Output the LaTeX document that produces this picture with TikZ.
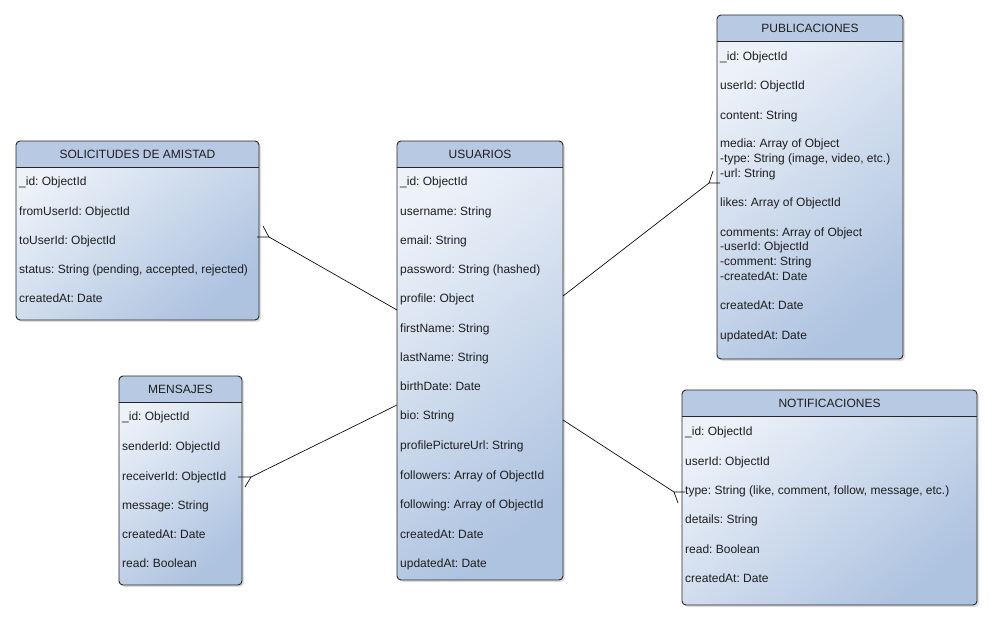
\documentclass[tikz,border=0pt]{standalone}
\usepackage{fontspec}
\setmainfont{Liberation Sans}
\frenchspacing
\usetikzlibrary{fit,calc}
\definecolor{hdrcol}{HTML}{B8CAE3}
\definecolor{bodytop}{HTML}{EDF2F9}
\definecolor{bodybot}{HTML}{AEC3E0}
\definecolor{bordercol}{HTML}{262626}
\definecolor{txtcol}{HTML}{1E1E1E}
\tikzset{
  ebox/.style={draw=bordercol, line width=0.9pt, rounded corners=4pt, inner sep=0pt},
  bodyshade/.style={rounded corners=4pt, top color=bodytop, bottom color=bodybot, shading angle=40},
  hdrfill/.style={fill=hdrcol},
  sepline/.style={draw=bordercol, line width=0.8pt},
  titletxt/.style={anchor=base, inner sep=0pt, text=txtcol, font=\fontsize{12}{14}\selectfont},
  rowtxt/.style={anchor=base west, inner sep=0pt, text=txtcol, font=\fontsize{12}{14}\selectfont},
  conn/.style={draw=black, line width=0.65pt},
  crow/.style={draw=black, line width=0.65pt}
}
\newcommand\erbox[6]{%
  \fill[black,opacity=0.13,rounded corners=4pt] (#2+2,-#3-2) rectangle (#4+2,-#5-2);
  \shade[bodyshade] (#2,-#3) rectangle (#4,-#5);
  \begin{scope}
    \clip[rounded corners=4pt] (#2,-#3) rectangle (#4,-#5);
    \fill[hdrfill] (#2,-#3) rectangle (#4,-#3-26);
  \end{scope}
  \draw[sepline] (#2,-#3-26) -- (#4,-#3-26);
  \node[ebox, fit={(#2,-#3) (#4,-#5)}] (#1) {};
  \node[titletxt] (#1-title) at ({(#2+#4)/2},{-#3-13-4.3}) {#6};
}
\newcommand\erow[4]{\node[rowtxt] (#1) at (#2,{-#3-4.3}) {#4};}
\begin{document}
\begin{tikzpicture}[x=1pt,y=1pt]
\useasboundingbox (0,0) rectangle (992,-621);
\fill[white] (0,0) rectangle (992,-621);

% ---------- SOLICITUDES DE AMISTAD ----------
\erbox{sol}{16}{141}{259}{320}{SOLICITUDES DE AMISTAD}
\erow{sol1}{19}{181}{\_id: ObjectId}
\erow{sol2}{19}{211}{fromUserId: ObjectId}
\erow{sol3}{19}{240}{toUserId: ObjectId}
\erow{sol4}{19}{269}{status: String (pending, accepted, rejected)}
\erow{sol5}{19}{298}{createdAt: Date}

% ---------- USUARIOS ----------
\erbox{usr}{397}{141}{563}{580}{USUARIOS}
\erow{usr1}{400}{181}{\_id: ObjectId}
\erow{usr2}{400}{211}{username: String}
\erow{usr3}{400}{240}{email: String}
\erow{usr4}{400}{269}{password: String (hashed)}
\erow{usr5}{400}{298}{profile: Object}
\erow{usr6}{400}{328}{firstName: String}
\erow{usr7}{400}{357}{lastName: String}
\erow{usr8}{400}{386}{birthDate: Date}
\erow{usr9}{400}{415}{bio: String}
\erow{usr10}{400}{445}{profilePictureUrl: String}
\erow{usr11}{400}{475}{followers: Array of ObjectId}
\erow{usr12}{400}{504}{following: Array of ObjectId}
\erow{usr13}{400}{534}{createdAt: Date}
\erow{usr14}{400}{563}{updatedAt: Date}

% ---------- MENSAJES ----------
\erbox{men}{119}{376}{242}{585}{MENSAJES}
\erow{men1}{122}{416}{\_id: ObjectId}
\erow{men2}{122}{446}{senderId: ObjectId}
\erow{men3}{122}{476}{receiverId: ObjectId}
\erow{men4}{122}{505}{message: String}
\erow{men5}{122}{534}{createdAt: Date}
\erow{men6}{122}{563}{read: Boolean}

% ---------- PUBLICACIONES ----------
\erbox{pub}{717}{15}{903}{359}{PUBLICACIONES}
\erow{pub1}{720}{56}{\_id: ObjectId}
\erow{pub2}{720}{85}{userId: ObjectId}
\erow{pub3}{720}{115}{content: String}
\erow{pub4}{720}{143}{media: Array of Object}
\erow{pub5}{720}{158}{-type: String (image, video, etc.)}
\erow{pub6}{720}{173}{-url: String}
\erow{pub7}{720}{202}{likes: Array of ObjectId}
\erow{pub8}{720}{232}{comments: Array of Object}
\erow{pub9}{720}{246}{-userId: ObjectId}
\erow{pub10}{720}{261}{-comment: String}
\erow{pub11}{720}{276}{-createdAt: Date}
\erow{pub12}{720}{305}{createdAt: Date}
\erow{pub13}{720}{335}{updatedAt: Date}

% ---------- NOTIFICACIONES ----------
\erbox{not}{682}{390}{977}{605}{NOTIFICACIONES}
\erow{not1}{685}{431}{\_id: ObjectId}
\erow{not2}{685}{461}{userId: ObjectId}
\erow{not3}{685}{490}{type: String (like, comment, follow, message, etc.)}
\erow{not4}{685}{519}{details: String}
\erow{not5}{685}{549}{read: Boolean}
\erow{not6}{685}{578}{createdAt: Date}

% ---------- connectors ----------
\coordinate (usr-sol) at (397,-310);
\coordinate (sol-apex) at (269,-237);
\coordinate (sol-e1) at (257,-237);
\coordinate (sol-e2) at (263,-226);
\draw[conn] (usr-sol) -- (sol-apex);
\draw[crow] (sol-e1) -- (sol-apex) -- (sol-e2);

\coordinate (usr-men) at (397,-405);
\coordinate (men-apex) at (251,-477);
\coordinate (men-e1) at (238,-477);
\coordinate (men-e2) at (245,-487);
\draw[conn] (usr-men) -- (men-apex);
\draw[crow] (men-e1) -- (men-apex) -- (men-e2);

\coordinate (usr-pub) at (563,-296);
\coordinate (pub-apex) at (709,-183);
\coordinate (pub-e1) at (720,-183);
\coordinate (pub-e2) at (713,-171);
\draw[conn] (usr-pub) -- (pub-apex);
\draw[crow] (pub-e1) -- (pub-apex) -- (pub-e2);

\coordinate (usr-not) at (563,-420);
\coordinate (not-apex) at (674,-492);
\coordinate (not-e1) at (685,-492);
\coordinate (not-e2) at (678,-503);
\draw[conn] (usr-not) -- (not-apex);
\draw[crow] (not-e1) -- (not-apex) -- (not-e2);
\end{tikzpicture}
\end{document}
